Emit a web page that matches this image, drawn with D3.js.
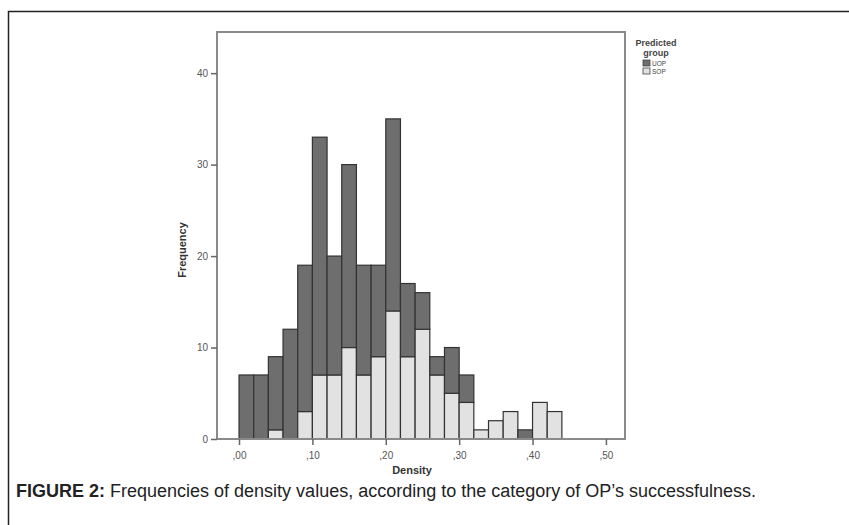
<!DOCTYPE html>
<html><head><meta charset="utf-8">
<script src="https://cdn.jsdelivr.net/npm/d3@7"></script>
<style>body{margin:0;background:#fff}svg{display:block}</style>
</head><body>
<svg id="c" width="849" height="525"></svg>
<script>
const binStarts = [0.00,0.02,0.04,0.06,0.08,0.10,0.12,0.14,0.16,0.18,0.20,0.22,0.24,0.26,0.28,0.30,0.32,0.34,0.36,0.38,0.40,0.42];
const sopCounts = [0,0,1,0,3,7,7,10,7,9,14,9,12,7,5,4,1,2,3,0,4,3];
const uopCounts = [7,7,8,12,16,26,13,20,12,10,21,8,4,2,5,3,0,0,0,1,0,0];
const xTicks = [0,0.1,0.2,0.3,0.4,0.5];
const xTickLabels = [",00",",10",",20",",30",",40",",50"];
const yTicks = [0,10,20,30,40];
const groups = ["UOP","SOP"];
const binWidth = 0.02;

const svg = d3.select("#c");
// outer figure frame
svg.append("path").attr("d","M8.5,525 V11.5 H849").attr("fill","none").attr("stroke","#222").attr("stroke-width",1.5);

const x = d3.scaleLinear().domain([-0.03,0.526]).range([217,625]);
const y = d3.scaleLinear().domain([0,44.5]).range([439,32]);

const colors = {UOP:"#6e6e6e", SOP:"#e2e2e2"};
const g = svg.append("g");
binStarts.forEach((b,i)=>{
  const s = sopCounts[i], u = uopCounts[i];
  if (s>0) g.append("rect").attr("x",x(b)).attr("width",x(b+binWidth)-x(b))
    .attr("y",y(s)).attr("height",y(0)-y(s)).attr("fill",colors.SOP).attr("stroke","#333").attr("stroke-width",1.2);
  if (u>0) g.append("rect").attr("x",x(b)).attr("width",x(b+binWidth)-x(b))
    .attr("y",y(s+u)).attr("height",y(s)-y(s+u)).attr("fill",colors.UOP).attr("stroke","#333").attr("stroke-width",1.2);
});

// plot frame
svg.append("rect").attr("x",217).attr("y",32).attr("width",408).attr("height",407)
  .attr("fill","none").attr("stroke","#8a8a8a").attr("stroke-width",2);

// axes
const yAxis = d3.axisLeft(y).tickValues(yTicks).tickSize(6).tickFormat(d3.format("d"));
const ya = svg.append("g").attr("transform","translate(217,0)").call(yAxis);
const xAxis = d3.axisBottom(x).tickValues(xTicks).tickSize(6).tickFormat((d,i)=>xTickLabels[i]);
const xa = svg.append("g").attr("transform","translate(0,439)").call(xAxis);
[ya,xa].forEach(a=>{
  a.select(".domain").remove();
  a.selectAll("line").attr("stroke","#666").attr("stroke-width",1.5);
  a.selectAll("text").attr("fill","#555").style("font-family","Liberation Sans, Arial, sans-serif").style("font-size","10px");
});
xa.selectAll("text").attr("dy","1.1em");

// axis titles
svg.append("text").attr("x",412).attr("y",474).attr("text-anchor","middle")
  .style("font-family","Liberation Sans, Arial, sans-serif").style("font-size","11px").style("font-weight","bold").attr("fill","#333").text("Density");
svg.append("text").attr("transform","translate(186,250) rotate(-90)").attr("text-anchor","middle")
  .style("font-family","Liberation Sans, Arial, sans-serif").style("font-size","11px").style("font-weight","bold").attr("fill","#333").text("Frequency");

// legend
const lg = svg.append("g").style("font-family","Liberation Sans, Arial, sans-serif").attr("fill","#444");
lg.append("text").attr("x",656).attr("y",46).attr("text-anchor","middle").style("font-size","9px").style("font-weight","bold").text("Predicted");
lg.append("text").attr("x",656).attr("y",56).attr("text-anchor","middle").style("font-size","9px").style("font-weight","bold").text("group");
groups.forEach((k,i)=>{
  lg.append("rect").attr("x",643).attr("y",60+i*8).attr("width",7).attr("height",6)
    .attr("fill",colors[k]).attr("stroke","#444").attr("stroke-width",0.8);
  lg.append("text").attr("x",652).attr("y",66+i*8).style("font-size","6.5px").text(k);
});

// caption
const cap = svg.append("text").attr("x",16).attr("y",497)
  .style("font-family","Liberation Sans Narrow, Liberation Sans, Arial, sans-serif").style("font-size","18px").attr("fill","#222");
cap.append("tspan").style("font-weight","bold").text("FIGURE 2:");
cap.append("tspan").text(" Frequencies of density values, according to the category of OP’s successfulness.");
</script>
</body></html>
